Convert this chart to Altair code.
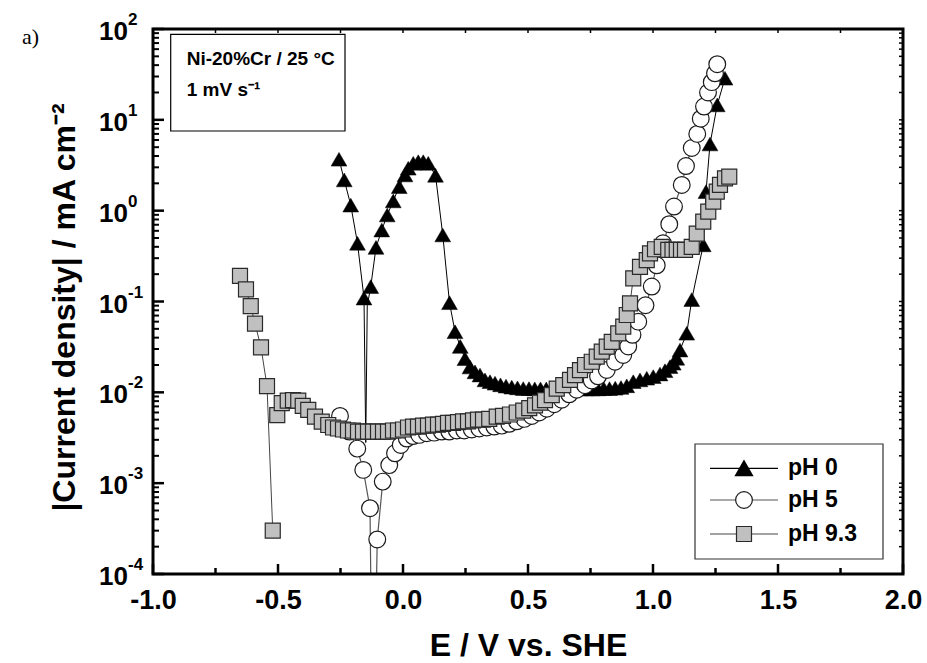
import altair as alt
import pandas as pd

# ---------------- data ----------------
# pH 0  (filled black triangles)
ph0_E = [-0.256, -0.235, -0.209, -0.182, -0.156, -0.129, -0.108, -0.085, -0.063, -0.039,
         -0.015, 0.008, 0.021, 0.041, 0.061, 0.081, 0.101, 0.130, 0.159, 0.186,
         0.208, 0.229, 0.248, 0.268, 0.288, 0.308, 0.328, 0.348, 0.368, 0.390,
         0.412, 0.435, 0.458, 0.481, 0.504, 0.527, 0.550, 0.573, 0.596, 0.619,
         0.642, 0.665, 0.688, 0.711, 0.734, 0.757, 0.780, 0.803, 0.826, 0.849,
         0.872, 0.895, 0.921, 0.948, 0.975, 1.001, 1.028, 1.048, 1.068, 1.081,
         1.095, 1.108, 1.135, 1.155, 1.201, 1.212, 1.228, 1.257, 1.288]
ph0_J = [3.68, 2.18, 1.15, 0.437, 0.109, 0.146, 0.394, 0.612, 0.896, 1.28,
         1.84, 2.47, 2.93, 3.32, 3.46, 3.46, 3.32, 2.45, 0.54, 0.097,
         0.0465, 0.032, 0.0235, 0.019, 0.0168, 0.0155, 0.0137, 0.0131, 0.0126, 0.0121,
         0.0117, 0.0114, 0.0112, 0.0110, 0.0110, 0.0109, 0.0109, 0.0109, 0.0109, 0.0109,
         0.0109, 0.0109, 0.0109, 0.0109, 0.0109, 0.0109, 0.0109, 0.0110, 0.0110, 0.0111,
         0.0113, 0.0118, 0.0131, 0.0137, 0.0143, 0.0149, 0.0159, 0.0173, 0.0192, 0.0209,
         0.0237, 0.0292, 0.0447, 0.105, 0.42, 1.62, 5.42, 14.6, 28.7]
ph0_line_E = [-0.149, -0.143]
ph0_line_J = [0.0028, 0.09]

# pH 5  (open circles)
ph5_E = [-0.252, -0.215, -0.183, -0.159, -0.132, -0.103, -0.081, -0.055, -0.032, -0.009,
         0.015, 0.040, 0.065, 0.095, 0.125, 0.155, 0.185, 0.215, 0.245, 0.275,
         0.305, 0.335, 0.365, 0.395, 0.425, 0.455, 0.485, 0.515, 0.545, 0.575,
         0.605, 0.635, 0.665, 0.695, 0.728, 0.755, 0.780, 0.815, 0.848, 0.881,
         0.901, 0.918, 0.941, 0.970, 0.995, 1.015, 1.040, 1.065, 1.084, 1.115,
         1.132, 1.155, 1.177, 1.191, 1.204, 1.220, 1.235, 1.248, 1.257]
ph5_J = [0.0055, 0.0037, 0.0024, 0.0014, 0.00053, 0.00024, 0.00104, 0.00158, 0.00213, 0.00263,
         0.0031, 0.0033, 0.0034, 0.00355, 0.0036, 0.0037, 0.0037, 0.0038, 0.0038, 0.0039,
         0.0040, 0.0041, 0.0042, 0.0043, 0.0045, 0.0048, 0.0051, 0.0055, 0.0060, 0.0066,
         0.0074, 0.0083, 0.0095, 0.0107, 0.0120, 0.0135, 0.0150, 0.0176, 0.0217, 0.0258,
         0.032, 0.043, 0.060, 0.091, 0.146, 0.25, 0.437, 0.71, 1.11, 1.92,
         3.1, 4.9, 7.0, 10.3, 14.0, 20.0, 26.0, 32.5, 41.0]
ph5_line_E = [-0.125, -0.112]
ph5_line_J = [1e-5, 1e-5]

# pH 9.3  (grey squares)
ph93_E = [-0.652, -0.628, -0.609, -0.592, -0.568, -0.544, -0.521, -0.503, -0.485, -0.461,
          -0.440, -0.419, -0.401, -0.379, -0.352, -0.325, -0.299, -0.280, -0.260, -0.240,
          -0.220, -0.200, -0.180, -0.160, -0.140, -0.120, -0.100, -0.080, -0.060, -0.040,
          -0.020, 0.000, 0.020, 0.040, 0.060, 0.080, 0.100, 0.120, 0.140, 0.160,
          0.180, 0.200, 0.220, 0.240, 0.260, 0.280, 0.300, 0.320, 0.345, 0.375,
          0.400, 0.428, 0.455, 0.481, 0.505, 0.528, 0.548, 0.568, 0.595, 0.615,
          0.641, 0.668, 0.688, 0.708, 0.728, 0.755, 0.775, 0.795, 0.815, 0.835,
          0.861, 0.881, 0.895, 0.908, 0.921, 0.948, 0.975, 0.988, 1.008, 1.035,
          1.061, 1.078, 1.095, 1.112, 1.128, 1.155, 1.175, 1.201, 1.221, 1.241,
          1.255, 1.268, 1.288, 1.305]
ph93_J = [0.191, 0.136, 0.089, 0.057, 0.0313, 0.0117, 0.0003, 0.0056, 0.0076, 0.0081,
          0.0082, 0.0081, 0.0071, 0.0064, 0.0054, 0.00475, 0.00437, 0.0041, 0.0040, 0.0039,
          0.0038, 0.0038, 0.0037, 0.0037, 0.0037, 0.0037, 0.0037, 0.0037, 0.0037, 0.0038,
          0.0038, 0.0039, 0.0041, 0.0042, 0.0042, 0.0043, 0.0043, 0.0044, 0.0044, 0.0045,
          0.0046, 0.0046, 0.0047, 0.0048, 0.0048, 0.0049, 0.0050, 0.0050, 0.0051, 0.0054,
          0.0055, 0.0057, 0.0060, 0.0063, 0.0067, 0.0072, 0.0077, 0.0082, 0.0093, 0.0110,
          0.0120, 0.0137, 0.0155, 0.0176, 0.0200, 0.0217, 0.0247, 0.0280, 0.0318, 0.0360,
          0.0446, 0.0528, 0.071, 0.0955, 0.18, 0.24, 0.286, 0.339, 0.376, 0.40,
          0.37, 0.37, 0.37, 0.37, 0.37, 0.40, 0.56, 0.757, 0.975, 1.26,
          1.62, 1.92, 2.27, 2.37]
ph93_break_after = -0.521   # the trace is interrupted after the zero-crossing point

# axis ticks / labels
x_lim = [-1.0, 2.0]
y_lim = [1e-4, 100.0]
x_major = [-1.0, -0.5, 0.0, 0.5, 1.0, 1.5, 2.0]
x_minor = [-0.75, -0.25, 0.25, 0.75, 1.25, 1.75]
y_exps = [-4, -3, -2, -1, 0, 1, 2]
y_major = [10.0 ** e for e in y_exps]
y_minor = [m * 10.0 ** e for e in range(-4, 2) for m in range(2, 10)]
y_exp_labels = [str(e) for e in y_exps]

legend_names = ["pH 0", "pH 5", "pH 9.3"]
info_lines = ["Ni-20%Cr / 25 °C", "1 mV s⁻¹"]

# ---------------- chart ----------------
W, H = 750, 545
FONT = "Liberation Sans"
DEC_PX = H / 6.0          # pixels per decade on the y axis
E_PER_PX = 3.0 / W        # volts per pixel on the x axis

xscale = alt.Scale(domain=x_lim, nice=False, zero=False)
yscale = alt.Scale(type="log", domain=y_lim, nice=False)

xaxis = alt.Axis(
    values=x_major,
    labelExpr="(datum.value < 0 ? '-' : '') + format(abs(datum.value), '.1f')",
    ticks=False, tickSize=0, domain=False, grid=False,
    labelFont=FONT, labelFontWeight="bold", labelFontSize=27, labelPadding=13,
    labelColor="black", labelOverlap=False, labelFlush=False,
    title="E / V vs. SHE", titleFont=FONT, titleFontWeight="bold", titleFontSize=32,
    titleColor="black", titleBaseline="alphabetic", titleY=81,
)
yaxis = alt.Axis(
    labels=False, ticks=False, tickSize=0, domain=False, grid=False,
    title="|Current density| / mA cm⁻²", titleFont=FONT, titleFontWeight="bold",
    titleFontSize=32, titleColor="black", titleX=-89, titleY=278, titleAngle=270,
    titleAlign="center", titleBaseline="middle",
)


def X(f="E"):
    return alt.X(f + ":Q", scale=xscale, axis=xaxis)


def Y(f="J"):
    return alt.Y(f + ":Q", scale=yscale, axis=yaxis)


def frames(xs, ys, ex, ey):
    pts = pd.DataFrame({"E": xs, "J": ys})
    ln = pd.DataFrame({"E": xs + ex, "J": ys + ey}).sort_values("E")
    return pts, ln


p0, l0 = frames(ph0_E, ph0_J, ph0_line_E, ph0_line_J)
p5, l5 = frames(ph5_E, ph5_J, ph5_line_E, ph5_line_J)
p9, l9 = frames(ph93_E, ph93_J, [], [])
l9["seg"] = (l9["E"] > ph93_break_after).astype(int)

one = pd.DataFrame({"k": [0]})

layers = []

# series
layers.append(alt.Chart(l0).mark_line(color="black", strokeWidth=1, clip=True).encode(x=X(), y=Y()))
layers.append(alt.Chart(p0).mark_point(shape="triangle-up", filled=True, fill="black", stroke="black",
                                       strokeWidth=0.5, size=250, opacity=1, clip=True).encode(x=X(), y=Y()))
layers.append(alt.Chart(l5).mark_line(color="#555555", strokeWidth=1.2, clip=True).encode(x=X(), y=Y()))
layers.append(alt.Chart(p5).mark_point(shape="circle", filled=True, fill="white", stroke="#1a1a1a",
                                       strokeWidth=1.2, size=280, opacity=1, clip=True).encode(x=X(), y=Y()))
layers.append(alt.Chart(l9).mark_line(color="#444444", strokeWidth=1, clip=True).encode(
    x=X(), y=Y(), detail="seg:N"))
layers.append(alt.Chart(p9).mark_point(shape="square", filled=True, fill="#c0c0c0", stroke="#2a2a2a",
                                       strokeWidth=1.2, size=225, opacity=1, clip=True).encode(x=X(), y=Y()))


# ---- inward ticks as rules whose both ends go through the scales ----
def xticks(vals, at_j, length_px, up, width):
    j2 = at_j * 10 ** ((length_px if up else -length_px) / DEC_PX)
    df = pd.DataFrame({"E": vals, "J": [at_j] * len(vals), "J2": [j2] * len(vals)})
    return alt.Chart(df).mark_rule(color="#000000", stroke="#000000", strokeWidth=width, opacity=1,
                                   strokeOpacity=1).encode(x=X(), y=Y(), y2="J2:Q")


def yticks(vals, at_e, length_px, right, width):
    e2 = at_e + (length_px if right else -length_px) * E_PER_PX
    df = pd.DataFrame({"J": vals, "E": [at_e] * len(vals), "E2": [e2] * len(vals)})
    return alt.Chart(df).mark_rule(color="#000000", stroke="#000000", strokeWidth=width, opacity=1,
                                   strokeOpacity=1).encode(y=Y(), x=X(), x2="E2:Q")


layers.append(xticks(x_major, y_lim[0], 10, True, 2.5))
layers.append(xticks(x_minor, y_lim[0], 6, True, 2.5))
layers.append(xticks(x_major + x_minor, y_lim[1], 4, False, 1.5))
layers.append(yticks(y_major, x_lim[0], 11, True, 2.5))
layers.append(yticks(y_minor, x_lim[0], 6, True, 2.0))
layers.append(yticks(y_major + y_minor, x_lim[1], 4, False, 1.5))

# plot frame
layers.append(alt.Chart(one).mark_rect(fill="white", fillOpacity=0, stroke="black", strokeWidth=3).encode(
    x=alt.value(0), x2=alt.value(W), y=alt.value(0), y2=alt.value(H)))

# y tick labels 10^n
ylab = pd.DataFrame({"J": y_major, "base": ["10"] * len(y_major), "exp": y_exp_labels})
layers.append(alt.Chart(ylab).mark_text(align="right", baseline="alphabetic", font=FONT, fontWeight="bold",
                                        fontSize=26, dy=11, color="black").encode(x=alt.value(-25), y=Y(), text="base:N"))
layers.append(alt.Chart(ylab).mark_text(align="left", baseline="alphabetic", font=FONT, fontWeight="bold",
                                        fontSize=17, dy=-4, color="black").encode(x=alt.value(-25), y=Y(), text="exp:N"))

# info box
layers.append(alt.Chart(one).mark_rect(fill="white", stroke="black", strokeWidth=1.2).encode(
    x=alt.value(17.7), x2=alt.value(192), y=alt.value(5.3), y2=alt.value(102)))
layers.append(alt.Chart(one).mark_text(align="left", baseline="alphabetic", font=FONT, fontWeight="bold",
                                       fontSize=19, color="black").encode(x=alt.value(33.7), y=alt.value(36), text=alt.value(info_lines[0])))
layers.append(alt.Chart(one).mark_text(align="left", baseline="alphabetic", font=FONT, fontWeight="bold",
                                       fontSize=19, color="black").encode(x=alt.value(33.7), y=alt.value(67), text=alt.value(info_lines[1])))

# legend
layers.append(alt.Chart(one).mark_rect(fill="white", stroke="#333333", strokeWidth=1.2).encode(
    x=alt.value(542), x2=alt.value(730), y=alt.value(415), y2=alt.value(530)))
rows_y = [439.3, 471, 505]
line_cols = ["black", "#555555", "#444444"]
for i, ry in enumerate(rows_y):
    layers.append(alt.Chart(one).mark_rule(color=line_cols[i], strokeWidth=1.2).encode(
        x=alt.value(557), x2=alt.value(625), y=alt.value(ry)))
    layers.append(alt.Chart(one).mark_text(align="left", baseline="middle", font=FONT, fontWeight="bold",
                                           fontSize=23, color="black").encode(x=alt.value(635), y=alt.value(ry), text=alt.value(legend_names[i])))
layers.append(alt.Chart(one).mark_point(shape="triangle-up", filled=True, fill="black", stroke="black",
                                        size=250, opacity=1).encode(x=alt.value(591), y=alt.value(rows_y[0])))
layers.append(alt.Chart(one).mark_point(shape="circle", filled=True, fill="white", stroke="#1a1a1a",
                                        strokeWidth=1.2, size=280, opacity=1).encode(x=alt.value(591), y=alt.value(rows_y[1])))
layers.append(alt.Chart(one).mark_point(shape="square", filled=True, fill="#c0c0c0", stroke="#2a2a2a",
                                        strokeWidth=1.2, size=225, opacity=1).encode(x=alt.value(591), y=alt.value(rows_y[2])))

# panel label
layers.append(alt.Chart(one).mark_text(align="left", baseline="alphabetic", font="Liberation Serif",
                                       fontSize=22, color="black").encode(x=alt.value(-131), y=alt.value(15), text=alt.value("a)")))

chart = alt.layer(*layers).properties(
    width=W, height=H,
    autosize=alt.AutoSizeParams(type="none"),
    padding={"left": 153, "top": 29, "right": 24, "bottom": 89},
    background="white",
).configure_view(strokeWidth=0, stroke="transparent")

chart.save("out.html", embed_options={"renderer": "svg", "actions": False})
